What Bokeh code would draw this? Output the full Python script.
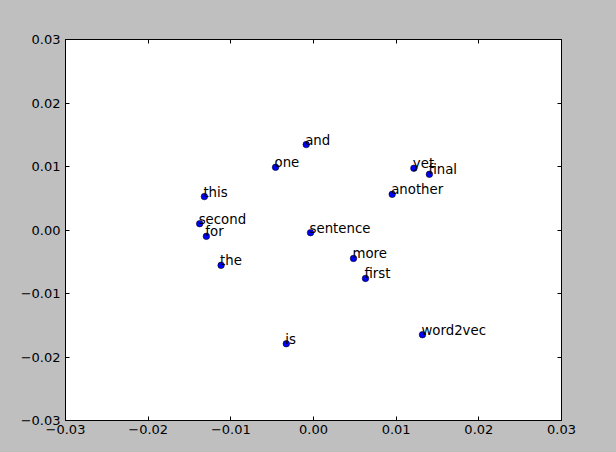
from bokeh.plotting import figure
from bokeh.models import Range1d, FixedTicker, CustomJSTickFormatter, LinearAxis, ColumnDataSource
from bokeh.core.properties import value
from bokeh.embed import file_html
from bokeh.resources import INLINE

words = ["and", "one", "this", "second", "for", "the", "sentence", "yet", "final",
         "another", "more", "first", "is", "word2vec"]
xs = [-0.00088, -0.00459, -0.01320, -0.01377, -0.01296, -0.01118, -0.00036, 0.01214,
      0.01402, 0.00952, 0.00484, 0.00629, -0.00329, 0.01318]
ys = [0.01345, 0.00987, 0.00526, 0.00100, -0.00100, -0.00557, -0.00042, 0.00972,
      0.00877, 0.00562, -0.00447, -0.00762, -0.01791, -0.01649]
ticks = [-0.03, -0.02, -0.01, 0.0, 0.01, 0.02, 0.03]

BG = "#bfbfbf"
FONT = "DejaVu Sans"

p = figure(width=616, height=452, output_backend="svg", toolbar_location=None,
           x_range=Range1d(-0.03, 0.03), y_range=Range1d(-0.03, 0.03),
           min_border_left=65, min_border_right=55, min_border_top=39, min_border_bottom=32,
           background_fill_color="white", border_fill_color=BG)
p.grid.visible = False
p.outline_line_color = "black"
p.outline_line_width = 1

fmt = CustomJSTickFormatter(code="""
if (Math.abs(tick) < 1e-9) return '0.00';
return tick.toFixed(2).replace('-', '\u2212');
""")

def style(ax, labels=True):
    ax.ticker = FixedTicker(ticks=ticks)
    ax.axis_line_color = "black"
    ax.axis_line_width = 1
    ax.major_tick_in = 4
    ax.major_tick_out = 0
    ax.major_tick_line_color = "black"
    ax.minor_tick_line_color = None
    if labels:
        ax.formatter = fmt
        ax.major_label_text_font = FONT
        ax.major_label_text_font_size = "13px"
        ax.major_label_text_color = "black"
    else:
        ax.major_label_text_font_size = "0px"
        ax.major_label_text_alpha = 0

style(p.xaxis[0])
style(p.yaxis[0])
p.xaxis[0].major_label_standoff = 4
p.yaxis[0].major_label_standoff = 5

top = LinearAxis()
right = LinearAxis()
style(top, labels=False)
style(right, labels=False)
p.add_layout(top, "above")
p.add_layout(right, "right")

src = ColumnDataSource(dict(x=xs, y=ys, w=words))
p.scatter("x", "y", source=src, size=6.5, fill_color="#0000ff", line_color="black", line_width=0.6)
p.text("x", "y", text="w", source=src, text_font=value(FONT), text_font_size="13.3px",
       text_color="black", text_align="left", text_baseline="bottom", x_offset=-1, y_offset=3)

html = file_html(p, INLINE)
html = html.replace("<head>", "<head><style>body{background:#bfbfbf;}</style>", 1)
open("out.html", "w").write(html)
